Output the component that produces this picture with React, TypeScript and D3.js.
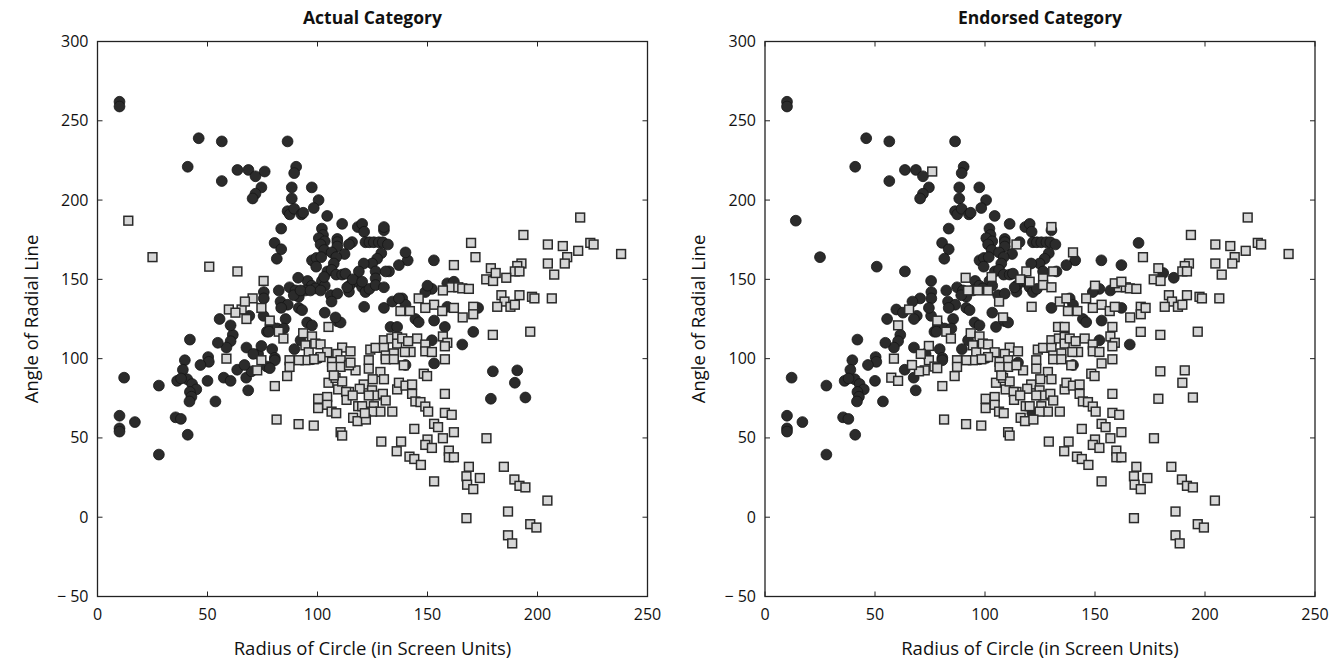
import React from 'react';
import * as d3 from 'd3';

const xTicks = [0, 50, 100, 150, 200, 250];
const yTicks = [-50, 0, 50, 100, 150, 200, 250, 300];

// [radius, angle] pairs
// circle in both panels
const circleBoth: [number, number][] = [
  [10, 262], [10, 259], [46, 239], [56.5, 237], [41, 221], [56.5, 212], [63.6, 219], [68.6, 219], [71.8, 215],
  [74.5, 208], [71.8, 204], [70.5, 201], [75.6, 142], [75.6, 138], [69, 127], [55.5, 125], [75.5, 127],
  [61.5, 115], [60.5, 111], [58.6, 107], [54.7, 110], [42, 112], [67.7, 107], [77, 117], [73, 103], [63.5, 93],
  [67.6, 88], [68.5, 80], [50, 86], [53.6, 73], [50.3, 101], [50.6, 98], [46.8, 96], [39.7, 99], [38.8, 93],
  [36.2, 86], [40.8, 87], [43, 84], [44.9, 80.6], [42, 79], [42.7, 76], [41.8, 73], [12.1, 88], [27.9, 83],
  [10, 64], [17, 60], [10, 56], [10, 54], [35.5, 63], [37.9, 62], [41, 52], [27.9, 39.5], [38, 87.5],
  [86.4, 237], [90.3, 221], [89.4, 217], [88.3, 208], [97.4, 208], [88.3, 201], [100.5, 200], [98.3, 195],
  [86.4, 193], [87.4, 191], [89.4, 194.5], [92.7, 191], [93.5, 192], [104.4, 190], [83.5, 182], [111.2, 185],
  [118.3, 183], [120.3, 185], [121.2, 180], [130.2, 181], [102, 182], [102.5, 178], [100.6, 176], [103.3, 174],
  [101.4, 172], [103, 168.5], [109, 175.5], [109, 173.5], [109, 170.7], [115.7, 173.5], [112.3, 166],
  [121.8, 173.4], [123.6, 173.4], [125.6, 173.4], [127.9, 173.4], [129.7, 173.4], [132, 172], [80.5, 173],
  [83.5, 169], [81.5, 163], [106.4, 167], [108.5, 164], [107.4, 160], [97.5, 162], [99.5, 163.5], [101.7, 164],
  [99.4, 158], [129, 166.5], [127.1, 163], [124.8, 160], [121, 160], [141, 162], [137, 159], [152.9, 162],
  [132.5, 155], [126.4, 155], [104.5, 155], [106.4, 156], [108.5, 153], [111.2, 153], [112.7, 153.6],
  [95.5, 149], [97.4, 146], [102, 149], [103.3, 146], [118, 148.5], [114.5, 146], [120.3, 145], [82.4, 143],
  [87.3, 145], [90, 143], [94.5, 143], [99, 144.3], [91.5, 139], [89.2, 140], [106, 140], [109, 141],
  [114.3, 142.2], [113.5, 145], [121.8, 142], [123.6, 144], [83.2, 136], [86.5, 134], [83.5, 132], [91.5, 132],
  [93, 130.6], [85.5, 125], [103.3, 129], [130.2, 132], [138.5, 138], [140, 134], [152, 144], [149, 142],
  [144.5, 125], [153, 124], [95.3, 122.8], [97.5, 121], [109, 123.6], [110.5, 122.8], [146, 123], [78.6, 121],
  [81.7, 119], [84.7, 119], [77.9, 117], [92.3, 111.6], [79.4, 106], [89.5, 106], [80.6, 100.5], [80.6, 99],
  [100.6, 100.5], [97.5, 99.6], [152, 111.6], [140, 96], [165.8, 108.9],
];

// square in both panels
const squareBoth: [number, number][] = [
  [65.5, 131], [58.6, 100], [74.5, 99], [72.6, 92.6], [146, 138], [153, 134], [149, 132], [142, 130],
  [137.7, 130], [78.3, 124], [219.4, 189], [193.6, 178], [204.7, 172], [211.5, 171], [224, 173], [225.5, 172],
  [218.5, 168], [213.5, 164], [212.4, 160], [204.7, 160], [207.6, 153], [171.8, 164], [192.7, 160],
  [190.8, 158.4], [189.7, 155], [191.8, 155], [178.8, 157], [176.7, 150], [179.8, 149], [160.8, 145], [164, 145],
  [165.8, 144.3], [168.8, 144], [183.6, 140], [185, 136], [181.7, 132.7], [187.7, 132.7], [189.7, 134],
  [191.8, 140], [197.5, 139], [198.6, 138], [206.5, 138], [170.8, 132.7], [170.8, 128], [166, 126],
  [156.7, 130], [238, 166], [82.4, 117], [84.5, 112.7], [93.5, 116], [97.5, 114], [94.5, 108.4], [96, 104],
  [99, 109.5], [101.4, 109], [104.4, 104], [101.4, 101], [98.3, 99.6], [94.5, 99], [91.5, 99], [87.3, 99],
  [87.3, 94.8], [86.2, 89], [80.6, 82.7], [111.2, 107], [109, 103], [115, 104.6], [106.6, 98], [110.5, 99],
  [110.5, 94.8], [106.6, 94.8], [117.3, 92.6], [114.3, 95.8], [124, 105.7], [126.4, 106.8], [130.2, 111.6],
  [130.2, 106.8], [133.6, 112.7], [136.2, 113.7], [136.2, 109.5], [138.5, 112.7], [141.2, 111], [145.3, 112.7],
  [149, 108.9], [142.3, 104.2], [139.7, 104.2], [149, 104.6], [152, 104.2], [131, 102], [134.7, 103.3],
  [131, 99.6], [134.7, 99.6], [123.3, 99], [123.3, 93.7], [139.2, 95.8], [148.3, 90.5], [149.8, 89],
  [128.6, 91.6], [130.2, 87], [125.1, 87], [121, 83.7], [119.2, 81], [114.3, 79], [109.4, 80.6], [105, 84.8],
  [108.2, 87.8], [111.2, 85.6], [107.4, 89.4], [124.8, 80], [126.4, 76.8], [123.3, 76.8], [129.7, 77.8],
  [131, 73.6], [136.2, 80.6], [137, 84.8], [140, 83], [143, 83.7], [143, 77.8], [144.5, 73], [146.8, 72.6],
  [149, 69.8], [150.3, 66.6], [113, 79], [113.2, 74], [116, 76.8], [118.5, 70], [120.3, 70], [125.6, 70],
  [128.6, 66.6], [124.8, 66.6], [134, 66.6], [116.2, 62.7], [118.2, 60.6], [122, 61.6], [100.3, 74.7],
  [104.4, 75.8], [100.3, 68.8], [104.4, 70.9], [106.4, 66.6], [108.5, 65.6], [81.4, 61.6], [91.4, 58.7],
  [98.3, 57.8], [110.5, 53.6], [111.2, 51.5], [144, 55.7], [153, 58.9], [129, 47.7], [138, 47.7], [136, 41.6],
  [150, 49], [149, 45.6], [152, 43.7], [141.8, 38.2], [144, 36.7], [147, 33], [153, 22.6], [179.7, 115],
  [196.7, 117], [157, 114], [159, 110], [157.9, 107.8], [157.9, 99.6], [157.9, 77.8], [157.9, 65.8], [161, 64.6],
  [154.8, 56.8], [162, 53.6], [157, 49.8], [176.8, 49.8], [159.7, 42], [159.7, 37.8], [162, 37.8], [168.8, 31.8],
  [184.7, 31.8], [167.7, 25.8], [173.8, 24.7], [168, 20.5], [170.8, 17.7], [189.5, 23.8], [191.8, 19.8],
  [194.5, 18.8], [204.5, 10.5], [186.6, 3.6], [167.7, -0.6], [196.7, -4.4], [199.5, -6.5], [186.6, -11.4],
  [188.5, -16.5],
];

// actual = circle, endorsed = square
const circleToSquare: [number, number][] = [
  [76, 218], [60.5, 121], [74.5, 108], [70.8, 103], [70, 92], [66.8, 96], [77, 95], [57.4, 88], [60.5, 86],
  [130.2, 183], [114.3, 172], [140, 167], [131, 155], [118.8, 155], [103, 151.5], [91.2, 151], [116, 150],
  [120.3, 148.5], [126.4, 150.6], [126.4, 146.4], [130.2, 145], [92.3, 143], [96.8, 143], [101.4, 143],
  [106.4, 136], [108.2, 126], [121.2, 132.7], [134, 136], [137, 138], [150, 146], [159, 147.5], [162, 148.5],
  [159, 132.7], [173, 132], [133.2, 120], [136.2, 120], [78.3, 94], [153, 97], [157.9, 120], [170.8, 116.9],
  [179.7, 92], [190.8, 92.6], [189.7, 84.8], [178.8, 74.7], [194.5, 75.5],
];

// actual = square, endorsed = circle
const squareToCircle: [number, number][] = [
  [14, 187], [25, 164], [50.8, 158], [63.6, 155], [75.5, 149], [70.5, 138], [67, 136], [59.7, 131],
  [62.7, 129], [74.5, 132], [67.7, 125], [169.8, 173], [162, 159], [181, 154], [185.8, 151], [157, 143],
  [162, 132], [105, 120], [115, 97.5], [121.5, 65.6],
];

const font = "'Open Sans', sans-serif";

const Panel = ({ left, title, circles, squares }) => {
  const x = d3.scaleLinear().domain([0, 250]).range([left, left + 550]);
  const y = d3.scaleLinear().domain([-50, 300]).range([596.5, 41.5]);
  const x0 = x(0), x1 = x(250), y0 = y(-50), y1 = y(300);
  const tk = 5; // tick length
  const cx = (x0 + x1) / 2;
  const cy = (y0 + y1) / 2;

  return (
    <g>
      <text x={cx} y={24} textAnchor="middle" fontFamily={font} fontWeight="bold" fontSize={17.5} fill="#111">{title}</text>

      {circles.map((d, i) => (
        <circle key={'c' + i} cx={x(d[0])} cy={y(d[1])} r={5.4} fill="#2b2b2b" stroke="#151515" strokeWidth={0.8} />
      ))}
      {squares.map((d, i) => (
        <rect key={'s' + i} x={x(d[0]) - 4.4} y={y(d[1]) - 4.4} width={8.8} height={8.8} fill="#d6d6d6" stroke="#2a2a2a" strokeWidth={1.5} />
      ))}

      <rect x={x0} y={y1} width={x1 - x0} height={y0 - y1} fill="none" stroke="#222" strokeWidth={1.3} />

      {xTicks.map(t => (
        <g key={'xt' + t}>
          <line x1={x(t)} x2={x(t)} y1={y0} y2={y0 - tk} stroke="#222" strokeWidth={1} />
          <line x1={x(t)} x2={x(t)} y1={y1} y2={y1 + tk} stroke="#222" strokeWidth={1} />
          <text x={x(t)} y={620} textAnchor="middle" fontFamily={font} fontSize={16} fill="#111">{t}</text>
        </g>
      ))}
      {yTicks.map(t => (
        <g key={'yt' + t}>
          <line x1={x0} x2={x0 + tk} y1={y(t)} y2={y(t)} stroke="#222" strokeWidth={1} />
          <line x1={x1} x2={x1 - tk} y1={y(t)} y2={y(t)} stroke="#222" strokeWidth={1} />
          <text x={x0 - 9} y={y(t) + 5.5} textAnchor="end" fontFamily={font} fontSize={16} fill="#111">
            {t < 0 ? '\u2212 ' + Math.abs(t) : t}
          </text>
        </g>
      ))}

      <text x={cx} y={655} textAnchor="middle" fontFamily={font} fontSize={18.5} fill="#111">Radius of Circle (in Screen Units)</text>
      <text transform={`translate(${left - 60},${cy}) rotate(-90)`} textAnchor="middle" fontFamily={font} fontSize={18.5} fill="#111">Angle of Radial Line</text>
    </g>
  );
};

export default function App() {
  const actualCircles = [...circleBoth, ...circleToSquare];
  const actualSquares = [...squareBoth, ...squareToCircle];
  const endorsedCircles = [...circleBoth, ...squareToCircle];
  const endorsedSquares = [...squareBoth, ...circleToSquare];

  return (
    <div style={{ position: 'absolute', left: 0, top: 0 }}>
      <svg width={1336} height={659} style={{ display: 'block', background: '#fff' }}>
        <Panel left={97.5} title="Actual Category" circles={actualCircles} squares={actualSquares} />
        <Panel left={765} title="Endorsed Category" circles={endorsedCircles} squares={endorsedSquares} />
      </svg>
    </div>
  );
}
